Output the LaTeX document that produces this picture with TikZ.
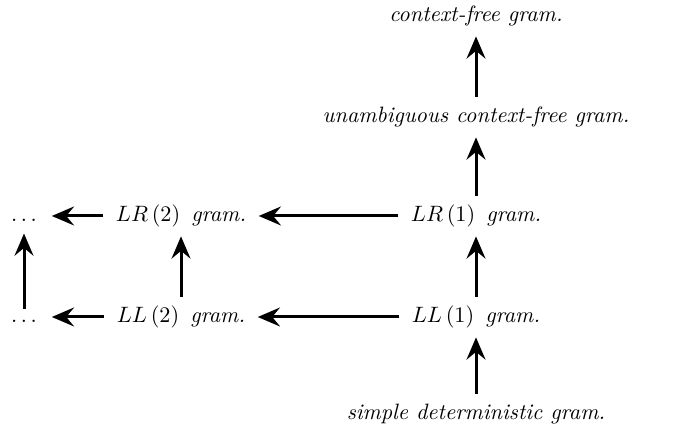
\documentclass[tikz,border=0pt]{standalone}
\usetikzlibrary{arrows.meta}
\tikzset{every picture/.style={line width=1.35pt}}
\tikzset{gramnode/.style={inner xsep=5pt,inner ysep=3.5pt,text height=7.5pt,text depth=2.5pt},
  dotsnode/.style={gramnode,inner xsep=6pt,inner ysep=0pt},
  incl/.style={-{Stealth[length=10pt,width=8.5pt,inset=3.5pt]}}}
\newcommand{\gramof}[2]{$#1\,(#2)$\hspace{5pt}\textit{gram.}}

\begin{document}
\begin{tikzpicture}[x=0.45pt,y=0.45pt,yscale=-1,xscale=1]
%set diagram size
\path[use as bounding box] (0,0) rectangle (683,443);

% Text Nodes
\node [gramnode] (cfg) at (476,16) {\textit{context-free gram.}};
\node [gramnode] (ucfg) at (476,117) {\textit{unambiguous context-free gram.}};
\node [gramnode] (lr1) at (476,216) {\gramof{LR}{1}};
\node [gramnode] (lr2) at (181,216) {\gramof{LR}{2}};
\node [dotsnode] (lrd) at (24,216) {$\ldots$};
\node [gramnode] (ll1) at (476,317) {\gramof{LL}{1}};
\node [gramnode] (ll2) at (181,317) {\gramof{LL}{2}};
\node [dotsnode] (lld) at (24,317) {$\ldots$};
\node [gramnode] (sdg) at (476,414) {\textit{simple deterministic gram.}};

% Arrows
\draw [incl] (ucfg) -- (cfg);
\draw [incl] (lr1) -- (ucfg);
\draw [incl] (ll1) -- (lr1);
\draw [incl] (sdg) -- (ll1);
\draw [incl] (lr1) -- (lr2);
\draw [incl] (ll1) -- (ll2);
\draw [incl] (lr2) -- (lrd);
\draw [incl] (ll2) -- (lld);
\draw [incl] (ll2) -- (lr2);
\draw [incl,shorten <=-2.2pt,shorten >=2.2pt] (lld) -- (lrd);
\end{tikzpicture}
\end{document}
